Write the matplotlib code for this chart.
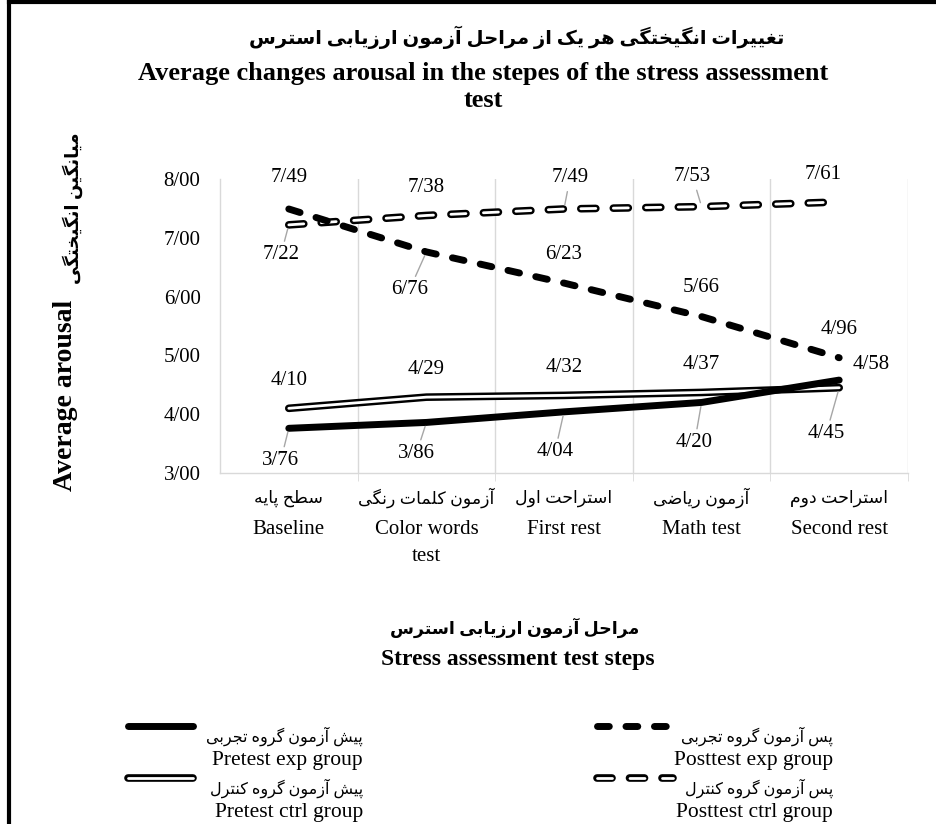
import matplotlib
matplotlib.use('Agg')
import matplotlib.pyplot as plt
import matplotlib.patheffects as pe
from matplotlib.lines import Line2D
from matplotlib.ticker import FuncFormatter

plt.rcParams['font.family'] = ['Liberation Serif', 'DejaVu Sans']

# ---------------------------------------------------------------------------
# small persian shaper: matplotlib has no text shaping, so pick the
# presentation forms by hand and reverse the order for drawing
DUAL = {'ب': 0xFE8F, 'ت': 0xFE95, 'ث': 0xFE99, 'ج': 0xFE9D, 'ح': 0xFEA1,
        'خ': 0xFEA5, 'س': 0xFEB1, 'ش': 0xFEB5, 'ص': 0xFEB9, 'ض': 0xFEBD,
        'ط': 0xFEC1, 'ظ': 0xFEC5, 'ع': 0xFEC9, 'غ': 0xFECD, 'ف': 0xFED1,
        'ق': 0xFED5, 'ل': 0xFEDD, 'م': 0xFEE1, 'ن': 0xFEE5, 'ه': 0xFEE9,
        'پ': 0xFB56, 'چ': 0xFB7A, 'ک': 0xFB8E, 'گ': 0xFB92, 'ی': 0xFBFC}
RIGHT = {'ا': 0xFE8D, 'آ': 0xFE81, 'د': 0xFEA9, 'ذ': 0xFEAB, 'ر': 0xFEAD,
         'ز': 0xFEAF, 'ژ': 0xFB8A, 'و': 0xFEED}


def fa(text):
    out = []
    for k, c in enumerate(text):
        if c not in DUAL and c not in RIGHT:
            out.append(c)
            continue
        prev = text[k - 1] if k > 0 else ''
        nxt = text[k + 1] if k + 1 < len(text) else ''
        jp = prev in DUAL
        jn = c in DUAL and (nxt in DUAL or nxt in RIGHT)
        if c in RIGHT:
            out.append(chr(RIGHT[c] + (1 if jp else 0)))
        else:
            base = DUAL[c]
            if jp and jn:
                out.append(chr(base + 3))
            elif jp:
                out.append(chr(base + 1))
            elif jn:
                out.append(chr(base + 2))
            else:
                out.append(chr(base))
    return ''.join(reversed(out))


# ---------------------------------------------------------------------------
steps_fa = ['سطح پایه', 'آزمون کلمات رنگی', 'استراحت اول', 'آزمون ریاضی', 'استراحت دوم']
steps_en = ['Baseline', 'Color words\ntest', 'First rest', 'Math test', 'Second rest']

pre_exp = [3.76, 3.86, 4.04, 4.20, 4.58]
post_exp = [7.49, 6.76, 6.23, 5.66, 4.96]
pre_ctrl = [4.10, 4.29, 4.32, 4.37, 4.45]
post_ctrl = [7.22, 7.38, 7.49, 7.53, 7.61]

names_fa = ['پیش آزمون گروه تجربی', 'پس آزمون گروه تجربی',
            'پیش آزمون گروه کنترل', 'پس آزمون گروه کنترل']
names_en = ['Pretest exp group', 'Posttest exp group',
            'Pretest ctrl group', 'Posttest ctrl group']

title_fa = 'تغییرات انگیختگی هر یک از مراحل آزمون ارزیابی استرس'
title_en = 'Average changes arousal in the stepes of the stress assessment\ntest'
xlab_fa = 'مراحل آزمون ارزیابی استرس'
xlab_en = 'Stress assessment test steps'
ylab_fa = 'میانگین انگیختگی'
ylab_en = 'Average arousal'

# label offsets in pixels (dx, dy down) and whether a leader line is drawn
offs = {
    'pre_exp': [(-8, 32, 1), (-10, 31, 1), (-9, 40, 1), (-7, 40, 1), (32, -16, 0)],
    'post_exp': [(0, -31, 0), (-17, 38, 1), (0, -29, 0), (0, -29, 0), (0, -28, 0)],
    'pre_ctrl': [(0, -28, 0), (0, -28, 0), (0, -28, 0), (0, -28, 0), (-13, 46, 1)],
    'post_ctrl': [(-8, 30, 1), (0, -28, 0), (6, -31, 1), (-9, -30, 1), (-16, -27, 0)],
}

outline = [pe.Stroke(linewidth=5.5, foreground='black'), pe.Normal()]
styles = {
    'pre_ctrl': dict(color='white', lw=2, path_effects=outline,
                     solid_capstyle='round'),
    'post_ctrl': dict(color='white', lw=2, path_effects=outline,
                      dashes=(5.4, 6.3), dash_capstyle='round'),
    'pre_exp': dict(color='black', lw=5, solid_capstyle='round'),
    'post_exp': dict(color='black', lw=5, dashes=(1.7, 2.4), dash_capstyle='round'),
}
series = {'pre_ctrl': pre_ctrl, 'post_ctrl': post_ctrl,
          'pre_exp': pre_exp, 'post_exp': post_exp}


def fmt(v):
    return f'{v:.2f}'.replace('.', '/')


fig = plt.figure(figsize=(9.37, 8.24), dpi=100)
ax = fig.add_axes([220 / 937, 1 - 473 / 824, 688 / 937, 294 / 824])

x = list(range(len(steps_en)))
for key in ['pre_ctrl', 'post_ctrl', 'pre_exp', 'post_exp']:
    ax.plot(x, series[key], **styles[key], zorder=3)
    for i, v in enumerate(series[key]):
        dx, dy, lead = offs[key][i]
        kw = {}
        if lead:
            kw['arrowprops'] = dict(arrowstyle='-', color='#a6a6a6', lw=1,
                                    shrinkA=1, shrinkB=3)
        ax.annotate(fmt(v), (i, v), xytext=(dx * 0.72, -dy * 0.72),
                    textcoords='offset points', ha='center', va='center',
                    fontsize=15, zorder=4, **kw)

ax.set_xlim(-0.5, len(x) - 0.5)
ax.set_ylim(3, 8)
ax.set_yticks([3, 4, 5, 6, 7, 8])
ax.yaxis.set_major_formatter(FuncFormatter(lambda v, p: fmt(v)))
ax.set_xticks(x)
ax.set_xticklabels(steps_en, linespacing=1.55, va='top')
ax.set_xticks([i + 0.5 for i in x], minor=True)
ax.tick_params(axis='x', which='major', length=0, pad=34, labelsize=15)
ax.tick_params(axis='x', which='minor', length=6, color='#d9d9d9')
ax.tick_params(axis='y', length=0, pad=14, labelsize=15)
ax.grid(axis='x', which='minor', color='#d9d9d9', lw=1)
for s in ['top', 'right']:
    ax.spines[s].set_visible(False)
for s in ['left', 'bottom']:
    ax.spines[s].set_color('#d9d9d9')
    ax.spines[s].set_linewidth(1)

# persian line of each category label, above the english one
for i, name in zip(x, steps_fa):
    ax.text(i, -25 / 294, fa(name), transform=ax.get_xaxis_transform(),
            ha='center', va='center', fontsize=12.5)

# titles
fig.text(517 / 937, 1 - 37 / 824, fa(title_fa), ha='center', va='center',
         fontsize=14, fontweight='bold')
fig.text(483 / 937, 1 - 87 / 824, title_en, ha='center', va='center',
         fontsize=19, fontweight='bold', linespacing=1.2)
fig.text(515 / 937, 1 - 628 / 824, fa(xlab_fa), ha='center', va='center',
         fontsize=12.5, fontweight='bold')
fig.text(518 / 937, 1 - 660 / 824, xlab_en, ha='center', va='center',
         fontsize=17, fontweight='bold')
fig.text(65 / 937, 1 - 395 / 824, ylab_en, rotation=90, ha='center',
         va='center', fontsize=20, fontweight='bold')
fig.text(73 / 937, 1 - 208 / 824, fa(ylab_fa), rotation=90, ha='center',
         va='center', fontsize=13, fontweight='bold')

# legend, drawn by hand in the excel layout
leg_keys = ['pre_exp', 'post_exp', 'pre_ctrl', 'post_ctrl']
for n, key in enumerate(leg_keys):
    col, row = n % 2, n // 2
    x0, x1 = (128, 193) if col == 0 else (597, 673)
    xr = 363 if col == 0 else 833
    yl = 726 + row * 52
    fig.add_artist(Line2D([x0 / 937, x1 / 937], [1 - yl / 824] * 2,
                          transform=fig.transFigure, **styles[key]))
    fig.text(xr / 937, 1 - (yl + 10) / 824, fa(names_fa[n]), ha='right',
             va='center', fontsize=11.5)
    fig.text(xr / 937, 1 - (yl + 34) / 824, names_en[n], ha='right',
             va='center', fontsize=15.5)

# frame on the left and top
fig.add_artist(Line2D([9 / 937, 9 / 937], [0, 1 - 2 / 824],
                      transform=fig.transFigure, color='black', lw=3))
fig.add_artist(Line2D([9 / 937, 1], [1 - 2 / 824] * 2,
                      transform=fig.transFigure, color='black', lw=3))

fig.savefig('out.png', dpi=100)
